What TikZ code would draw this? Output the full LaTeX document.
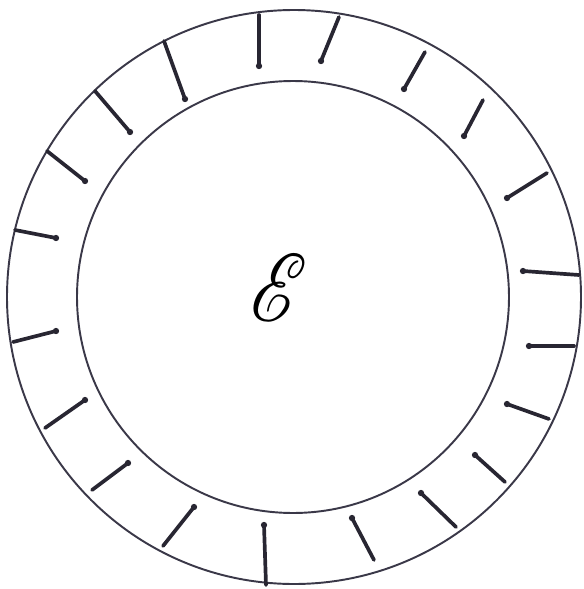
\documentclass[tikz,border=0pt]{standalone}
\usepackage{amsmath,amssymb}
\usepackage{mathrsfs}
\usepackage{tikz}
\usetikzlibrary{calc}
\definecolor{inkline}{RGB}{58,56,72}
\definecolor{inkmark}{RGB}{40,38,50}

\begin{document}
\begin{tikzpicture}[x=0.02cm, y=-0.02cm,
    ring/.style={draw=inkline, line width=1.1pt},
    tickmark/.style={draw=inkmark, line width=2.1pt, line cap=round},
    tickdot/.style={fill=inkmark}]
  \useasboundingbox (0,0) rectangle (584,589);

  % the two rings
  \draw[ring] (294,297) circle (287);
  \draw[ring] (293,297) circle (216);

  % marks in the ring, outer end / inner end (dot)
  \foreach \ox/\oy/\ix/\iy in {259/15/259/66, 339/17/321/61, 425/52/404/89,
      483/100/464/136, 547/173/507/198, 579/275/523/271, 574/346/529/346,
      549/419/507/404, 505/482/475/455, 456/527/421/493, 374/560/352/518,
      266/585/264/525, 163/546/194/507, 92/490/128/463, 45/428/85/400,
      13/342/56/331, 15/230/56/238, 47/151/85/181, 95/91/130/132,
      164/41/185/99}
  {
    \draw[tickmark] (\ox,\oy) -- (\ix,\iy);
    \fill[tickdot] (\ix,\iy) circle (1.8pt);
  }

  \node[inner sep=0pt, xscale=1.75, yscale=2.2] (energy) at (279,288) {\fontsize{24.88}{26}\selectfont$\mathscr{E}$};
\end{tikzpicture}
\end{document}
